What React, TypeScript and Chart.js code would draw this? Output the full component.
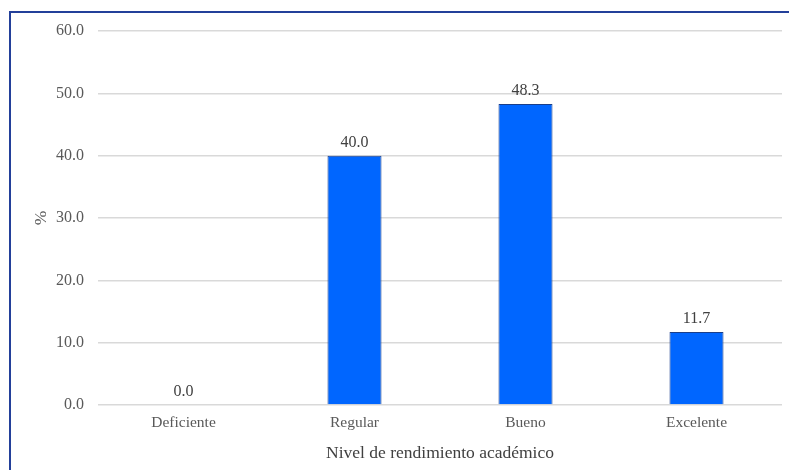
import React, { useEffect, useRef } from "react";
import { Chart, registerables } from "chart.js";

Chart.register(...registerables);

const categories = ["Deficiente", "Regular", "Bueno", "Excelente"];
const values = [0.0, 40.0, 48.3, 11.7];
const yTicks = [0, 10, 20, 30, 40, 50, 60];
const xTitle = "Nivel de rendimiento académico";
const yTitle = "%";

const FONT = "'Liberation Serif', 'Times New Roman', serif";

const dataLabels = {
  id: "dataLabels",
  afterDatasetsDraw(chart: any) {
    const ctx = chart.ctx;
    const meta = chart.getDatasetMeta(0);
    ctx.save();
    ctx.font = `16px ${FONT}`;
    ctx.fillStyle = "#404040";
    ctx.textAlign = "center";
    ctx.textBaseline = "bottom";
    meta.data.forEach((el: any, i: number) => {
      const v = chart.data.datasets[0].data[i] as number;
      ctx.fillText(v.toFixed(1), el.x, el.y - 5);
    });
    ctx.restore();
  },
};

export default function App() {
  const ref = useRef<HTMLCanvasElement | null>(null);
  useEffect(() => {
    if (!ref.current) return;
    const chart = new Chart(ref.current, {
      type: "bar",
      data: {
        labels: categories,
        datasets: [
          {
            data: values,
            backgroundColor: "#0066ff",
            borderColor: "#1a3f8a",
            borderWidth: 1,
            barPercentage: 0.316,
            categoryPercentage: 1,
          },
        ],
      },
      options: {
        responsive: false,
        animation: false,
        layout: { padding: { top: 31, right: 7, left: 0, bottom: 0 } },
        plugins: { legend: { display: false }, tooltip: { enabled: false } },
        scales: {
          x: {
            grid: { display: false, drawTicks: false },
            border: { display: false },
            ticks: { color: "#595959", font: { family: FONT, size: 15.5 }, padding: 9 },
            title: {
              display: true,
              text: xTitle,
              color: "#404040",
              font: { family: FONT, size: 17.5 },
              padding: { top: 0, bottom: 6 },
            },
            afterFit: (s: any) => {
              s.height = 65;
            },
          },
          y: {
            min: 0,
            max: 60,
            afterBuildTicks: (s: any) => {
              s.ticks = yTicks.map((v) => ({ value: v }));
            },
            grid: { color: "#d9d9d9", lineWidth: 1.5, drawTicks: false },
            border: { display: false },
            ticks: {
              color: "#595959",
              font: { family: FONT, size: 16 },
              padding: 14,
              callback: (v: any) => Number(v).toFixed(1),
            },
            title: {
              display: true,
              text: yTitle,
              color: "#595959",
              font: { family: FONT, size: 17.5 },
              padding: { top: 31, bottom: 0 },
            },
            afterFit: (s: any) => {
              s.width = 98;
            },
          },
        },
      },
      plugins: [dataLabels],
    });
    return () => chart.destroy();
  }, []);

  return (
    <div
      style={{
        position: "fixed",
        left: 0,
        top: 0,
        width: 789,
        height: 470,
        background: "#ffffff",
      }}
    >
      <canvas ref={ref} width={789} height={470} style={{ width: 789, height: 470, display: "block" }} />
      <div
        style={{
          position: "absolute",
          left: 9,
          top: 11,
          right: 0,
          bottom: 0,
          borderTop: "2px solid #23409a",
          borderLeft: "2px solid #23409a",
          pointerEvents: "none",
        }}
      />
    </div>
  );
}
